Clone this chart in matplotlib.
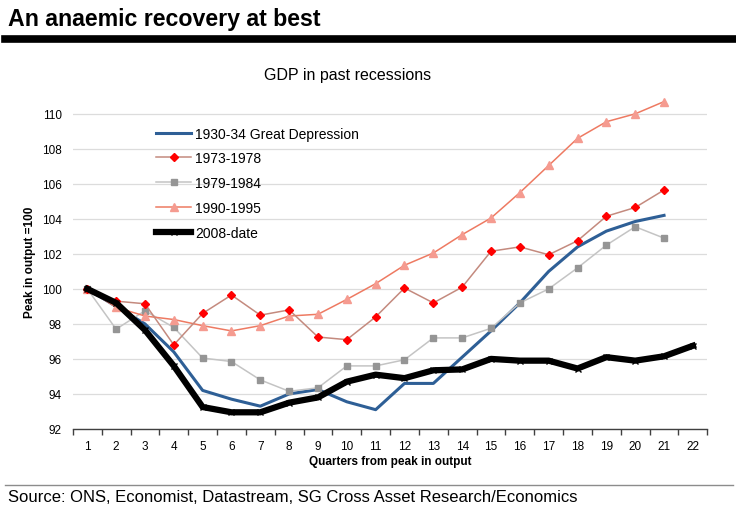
#
# GDP in past recessions - UK
#
import numpy as np
import matplotlib.pyplot as plt
from matplotlib.lines import Line2D

plt.rcParams['font.family'] = ['Liberation Sans', 'DejaVu Sans']

# Data (peak in output = 100)
quarters = list(range(1, 23))
gd_1930 = [100.0, 99.0, 98.0, 96.4, 94.2, 93.7, 93.3, 94.0, 94.25, 93.55, 93.1,
           94.6, 94.6, 96.1, 97.6, 99.2, 101.0, 102.4, 103.3, 103.85, 104.2]
r_1973 = [100.0, 99.3, 99.15, 96.8, 98.6, 99.65, 98.5, 98.8, 97.25, 97.1, 98.4,
          100.05, 99.2, 100.1, 102.15, 102.4, 101.95, 102.75, 104.15, 104.65, 105.65]
r_1979 = [100.0, 97.7, 98.75, 97.8, 96.05, 95.85, 94.8, 94.15, 94.35, 95.6, 95.6,
          95.95, 97.2, 97.2, 97.75, 99.2, 100.0, 101.2, 102.5, 103.55, 102.9]
r_1990 = [100.0, 98.95, 98.45, 98.25, 97.9, 97.6, 97.9, 98.45, 98.55, 99.4, 100.3,
          101.35, 102.05, 103.1, 104.05, 105.5, 107.05, 108.6, 109.55, 110.0, 110.7]
r_2008 = [100.0, 99.2, 97.65, 95.6, 93.25, 92.95, 92.95, 93.5, 93.8, 94.7, 95.1,
          94.9, 95.35, 95.4, 96.0, 95.9, 95.9, 95.45, 96.1, 95.9, 96.15, 96.75]

fig = plt.figure(figsize=[7.36, 5.10], dpi=100, facecolor='white')

# header
fig.text(0.011, 0.962, 'An anaemic recovery at best', fontsize=16.7,
         fontweight='bold', ha='left', va='center', color='black')
fig.add_artist(Line2D([0.007, 0.996], [0.921, 0.921], color='black',
                      linewidth=5.5, transform=fig.transFigure))
fig.text(0.472, 0.852, 'GDP in past recessions', fontsize=11.5,
         ha='center', va='center', color='black')

ax = fig.add_axes([0.099, 0.157, 0.862, 0.659])

x = np.array(quarters)
ax.plot(x[:len(gd_1930)], gd_1930, '-', color='#2E5F96', linewidth=2.2,
        label='1930-34 Great Depression', zorder=3)
ax.plot(x[:len(r_1973)], r_1973, '-', color='#C48A7E', linewidth=1.1,
        marker='D', markersize=4.5, markerfacecolor='#FF0000',
        markeredgecolor='#FF0000', label='1973-1978', zorder=4)
ax.plot(x[:len(r_1979)], r_1979, '-', color='#C4C4C4', linewidth=1.1,
        marker='s', markersize=5, markerfacecolor='#959595',
        markeredgecolor='#959595', label='1979-1984', zorder=3)
ax.plot(x[:len(r_1990)], r_1990, '-', color='#EE7A62', linewidth=1.1,
        marker='^', markersize=5.5, markerfacecolor='#F59B90',
        markeredgecolor='#F59B90', label='1990-1995', zorder=3)
ax.plot(x[:len(r_2008)], r_2008, '-', color='black', linewidth=4.5,
        marker='x', markersize=4, markeredgewidth=1, label='2008-date',
        zorder=5, clip_on=False)

ax.set_xlim(0.5, 22.5)
ax.set_ylim(92, 111.2)
ax.set_yticks(np.arange(92, 111, 2))
ax.set_xticks(quarters)
ax.set_xticks(np.arange(0.5, 23, 1), minor=True)
ax.yaxis.grid(True, color='#DCDCDC', linewidth=0.9)
ax.set_axisbelow(True)

for side in ['top', 'right', 'left']:
    ax.spines[side].set_visible(False)
ax.spines['bottom'].set_color('#404040')
ax.spines['bottom'].set_linewidth(1.0)
ax.tick_params(axis='x', which='major', length=0, labelsize=8.5, pad=8)
ax.tick_params(axis='x', which='minor', length=4, width=1, color='#404040',
               direction='out')
ax.tick_params(axis='y', length=0, labelsize=8.5, pad=8)

ax.set_xlabel('Quarters from peak in output', fontsize=8.5,
              fontweight='bold', labelpad=2)
ax.set_ylabel('Peak in output =100', fontsize=8.5, fontweight='bold',
              labelpad=4)

leg = ax.legend(loc='upper left', bbox_to_anchor=(0.112, 0.937), frameon=False,
                fontsize=10, handlelength=2.5, labelspacing=0.78,
                handletextpad=0.3)

# footer
fig.add_artist(Line2D([0.007, 0.996], [0.047, 0.047], color='#8C8C8C',
                      linewidth=1.0, transform=fig.transFigure))
fig.text(0.011, 0.024, 'Source: ONS, Economist, Datastream, SG Cross Asset '
         'Research/Economics', fontsize=12, ha='left', va='center')

plt.savefig('out.png', dpi=100, facecolor='white')
